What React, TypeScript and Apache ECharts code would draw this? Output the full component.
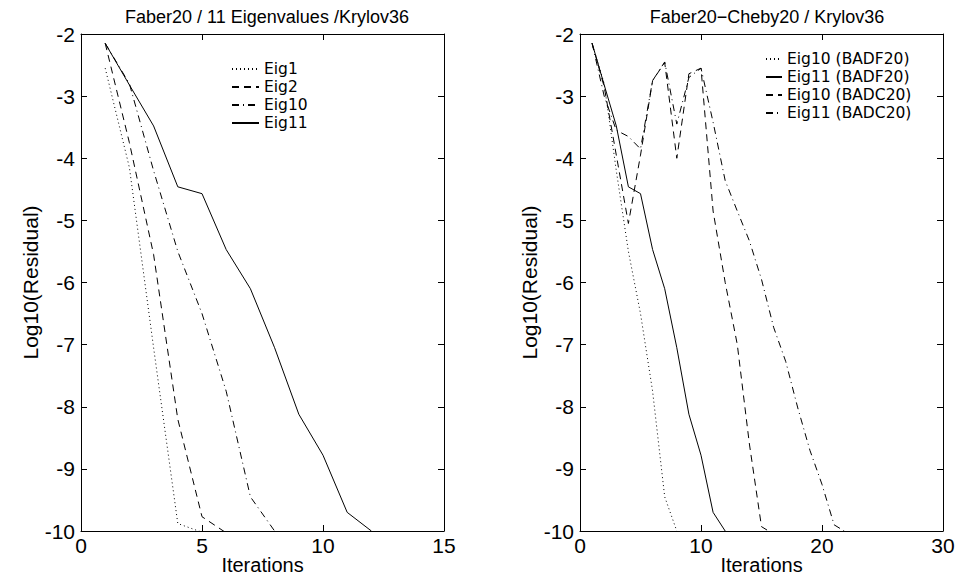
import React, { useEffect, useRef } from "react";
import * as echarts from "echarts";

// ---- texts ----
const leftTitle = "Faber20 / 11 Eigenvalues /Krylov36";
const rightTitle = "Faber20\u2212Cheby20 / Krylov36";
const xName = "Iterations";
const yName = "Log10(Residual)";

// ---- tick values ----
const leftXTicks = [0, 5, 10, 15];
const rightXTicks = [0, 10, 20, 30];
const yTicks = [-10, -9, -8, -7, -6, -5, -4, -3, -2];

// ---- series values (iteration 1, 2, 3, ...) ----
// left panel
const eig1 = [-2.55, -4.15, -7.05, -9.88, -10.02];
const eig2 = [-2.15, -3.75, -5.55, -8.2, -9.77, -10.03];
const eig10 = [-2.15, -2.8, -4.2, -5.5, -6.5, -7.75, -9.45, -10.0];
const eig11 = [-2.15, -2.82, -3.48, -4.46, -4.57, -5.47, -6.1, -7.05, -8.12, -8.78, -9.7, -10.0];
// right panel
const eig10BADF20 = [-2.15, -2.8, -4.2, -5.5, -6.5, -7.75, -9.45, -10.0];
const eig11BADF20 = [-2.15, -2.82, -3.48, -4.46, -4.57, -5.47, -6.1, -7.05, -8.12, -8.78, -9.7, -10.0];
const eig10BADC20 = [-2.15, -2.85, -3.95, -5.05, -3.95, -2.75, -2.46, -4.0, -2.64, -2.55, -4.85, -6.0, -7.0, -8.6, -9.93, -10.05];
const eig11BADC20 = [-2.15, -3.0, -3.55, -3.65, -3.85, -2.75, -2.45, -3.45, -2.7, -2.55, -3.42, -4.36, -4.85, -5.33, -5.95, -6.72, -7.27, -8.02, -8.7, -9.25, -9.9, -10.02];

const FONT = "'Liberation Sans', Arial, Helvetica, sans-serif";
const WIDE = "'DejaVu Sans', 'Liberation Sans', Arial, sans-serif";
const DOTTED = [1, 3];
const DASHED = [7, 5];
const DASHDOT = [7, 4, 1, 4];

const pts = (ys: number[]) => ys.map((y, i) => [i + 1, y]);

function xAxes(grid: number, ticks: number[]) {
  const min = ticks[0];
  const max = ticks[ticks.length - 1];
  const interval = ticks[1] - ticks[0];
  const common = {
    type: "value",
    gridIndex: grid,
    min,
    max,
    interval,
    splitLine: { show: false },
    axisLine: { show: true, onZero: false, lineStyle: { color: "#000", width: 1 } },
    axisTick: { show: true, inside: true, length: 6, lineStyle: { color: "#000" } },
  };
  return [
    {
      ...common,
      position: "bottom",
      name: xName,
      nameLocation: "middle",
      nameGap: 24,
      nameMoveOverlap: false,
      nameTextStyle: { color: "#000", fontSize: 20, fontFamily: FONT, verticalAlign: "top" },
      axisLabel: { color: "#000", fontSize: 21, fontFamily: FONT, margin: 4 },
    },
    { ...common, position: "top", axisLabel: { show: false } },
  ];
}

function yAxes(grid: number) {
  const common = {
    type: "value",
    gridIndex: grid,
    min: yTicks[0],
    max: yTicks[yTicks.length - 1],
    interval: 1,
    splitLine: { show: false },
    axisLine: { show: true, onZero: false, lineStyle: { color: "#000", width: 1 } },
    axisTick: { show: true, inside: true, length: 6, lineStyle: { color: "#000" } },
  };
  return [
    {
      ...common,
      position: "left",
      name: yName,
      nameLocation: "middle",
      nameGap: 40,
      nameRotate: 90,
      nameMoveOverlap: false,
      nameTextStyle: { color: "#000", fontSize: 21, fontFamily: FONT },
      axisLabel: { color: "#000", fontSize: 21, fontFamily: FONT, margin: 6 },
    },
    { ...common, position: "right", axisLabel: { show: false } },
  ];
}

function line(name: string, data: number[], dash: number[] | "solid", xi: number, yi: number) {
  return {
    name,
    type: "line",
    xAxisIndex: xi,
    yAxisIndex: yi,
    data: pts(data),
    symbol: "none",
    showSymbol: false,
    clip: true,
    lineStyle: { color: "#000", width: 1, type: dash },
    itemStyle: { color: "#000" },
    z: 3,
  };
}

export default function App() {
  const ref = useRef<HTMLDivElement>(null);
  useEffect(() => {
    if (!ref.current) return;
    const chart = echarts.init(ref.current, undefined, { renderer: "svg" });
    const legendCommon = {
      orient: "vertical",
      itemHeight: 14,
      itemGap: 0,
      selectedMode: false,
      itemStyle: { opacity: 0 },
      textStyle: { color: "#000", fontSize: 15.5, lineHeight: 18, fontFamily: WIDE },
    };
    const option: any = {
      animation: false,
      backgroundColor: "#fff",
      title: [
        {
          text: leftTitle,
          left: 262,
          top: 3,
          textAlign: "center",
          textStyle: { color: "#000", fontSize: 18, fontWeight: "normal", fontFamily: FONT },
        },
        {
          text: rightTitle,
          left: 762,
          top: 3,
          textAlign: "center",
          textStyle: { color: "#000", fontSize: 18, fontWeight: "normal", fontFamily: FONT },
        },
      ],
      grid: [
        { left: 81, top: 34, width: 363, height: 497, outerBoundsMode: "none", containLabel: false },
        { left: 580, top: 34, width: 363, height: 497, outerBoundsMode: "none", containLabel: false },
      ],
      xAxis: [...xAxes(0, leftXTicks), ...xAxes(1, rightXTicks)],
      yAxis: [...yAxes(0), ...yAxes(1)],
      legend: [
        {
          ...legendCommon,
          data: ["Eig1", "Eig2", "Eig10", "Eig11"],
          left: 226,
          top: 55,
          itemWidth: 27,
        },
        {
          ...legendCommon,
          data: ["Eig10 (BADF20)", "Eig11 (BADF20)", "Eig10 (BADC20)", "Eig11 (BADC20)"],
          left: 760,
          top: 45,
          itemWidth: 16,
        },
      ],
      series: [
        line("Eig1", eig1, DOTTED, 0, 0),
        line("Eig2", eig2, DASHED, 0, 0),
        line("Eig10", eig10, DASHDOT, 0, 0),
        line("Eig11", eig11, "solid", 0, 0),
        line("Eig10 (BADF20)", eig10BADF20, DOTTED, 2, 2),
        line("Eig11 (BADF20)", eig11BADF20, "solid", 2, 2),
        line("Eig10 (BADC20)", eig10BADC20, DASHED, 2, 2),
        line("Eig11 (BADC20)", eig11BADC20, DASHDOT, 2, 2),
      ],
    };
    chart.setOption(option);
    return () => chart.dispose();
  }, []);
  return (
    <div
      ref={ref}
      style={{ position: "fixed", left: 0, top: 0, width: 958, height: 577, background: "#fff" }}
    />
  );
}
